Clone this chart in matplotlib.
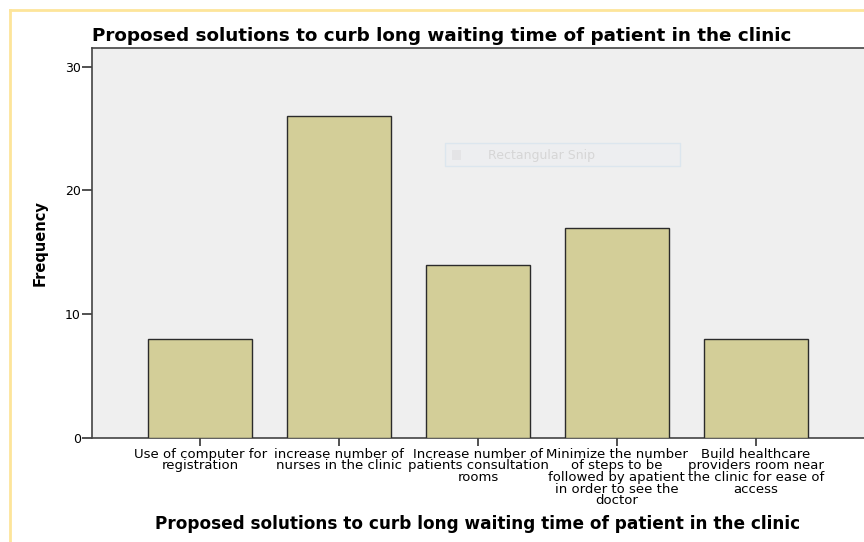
import matplotlib
matplotlib.use("Agg")
import matplotlib.pyplot as plt
from matplotlib.patches import Rectangle
from matplotlib.lines import Line2D

categories = [
    "Use of computer for\nregistration",
    "increase number of\nnurses in the clinic",
    "Increase number of\npatients consultation\nrooms",
    "Minimize the number\nof steps to be\nfollowed by apatient\nin order to see the\ndoctor",
    "Build healthcare\nproviders room near\nthe clinic for ease of\naccess",
]
frequency = [8, 26, 14, 17, 8]
yticks = [0, 10, 20, 30]
title = "Proposed solutions to curb long waiting time of patient in the clinic"

plt.rcParams['font.family'] = ['DejaVu Sans']

fig = plt.figure(figsize=(8.64, 5.42), dpi=100)
fig.patch.set_facecolor("white")
ax = fig.add_axes([92/864, 1-438/542, 1-92/864, (438-48)/542])
ax.set_facecolor("#EFEFEF")

x = list(range(len(categories)))
ax.bar(x, frequency, width=0.75, color="#D3CE98", edgecolor="#2b2b2b", linewidth=1.0, zorder=3)

ax.set_xlim(-0.78, 4.78)
ax.set_ylim(0, 31.5)
ax.set_yticks(yticks)
ax.set_yticklabels([str(t) for t in yticks], fontsize=9)
ax.set_xticks(x)
ax.set_xticklabels(categories, fontsize=9.5, linespacing=0.86)
ax.tick_params(axis='y', direction='out', length=7, width=1.2, color="#333333", pad=1)
ax.tick_params(axis='x', direction='out', length=6, width=1.2, color="#333333", pad=1)

for s in ["left", "bottom", "top"]:
    ax.spines[s].set_color("#444444")
    ax.spines[s].set_linewidth(1.2)
ax.spines["right"].set_visible(False)

ax.set_ylabel("Frequency", fontsize=10.5, fontweight="bold")
ax.yaxis.set_label_coords(-0.058, 0.5)
ax.set_title(title, fontsize=13.2, fontweight="bold", loc="left", x=0.0, pad=5)
ax.set_xlabel(title, fontsize=12.2, fontweight="bold", labelpad=6)

# faint screenshot overlay box
fig.patches.append(Rectangle((445/864, 1-166/542), (680-445)/864, 23/542,
                             transform=fig.transFigure, facecolor="#EDEEF0",
                             edgecolor="#DCE6EE", linewidth=1, zorder=5))
fig.text(488/864, 1-155/542, "Rectangular Snip", fontsize=9, color="#D6D6D6",
         va="center", ha="left", zorder=6)
fig.patches.append(Rectangle((452/864, 1-160/542), 9/864, 10/542,
                             transform=fig.transFigure, facecolor="#E4E4E6",
                             edgecolor="none", zorder=6))

# yellow page border
fig.add_artist(Line2D([10/864, 10/864], [0, 1-10/542], transform=fig.transFigure,
                      color="#FDE59A", linewidth=2))
fig.add_artist(Line2D([10/864, 1], [1-10/542, 1-10/542], transform=fig.transFigure,
                      color="#FDE59A", linewidth=2))

fig.savefig("out.png", dpi=100)
